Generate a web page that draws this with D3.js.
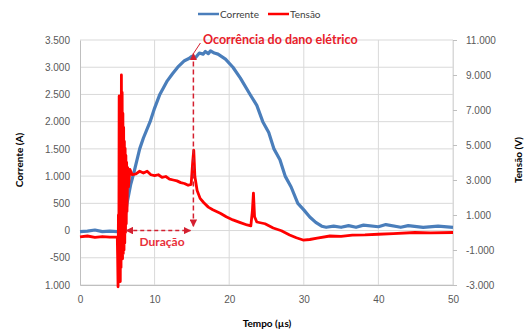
<!DOCTYPE html>
<html>
<head>
<meta charset="utf-8">
<style>
  body { margin: 0; background: #fff; }
  svg { font-family: Lato, "Open Sans", sans-serif; }
  .tick text { fill: #595959; font-size: 10px; }
</style>
</head>
<body>
<svg id="chart" width="530" height="335"></svg>
<script src="https://d3js.org/d3.v7.min.js"></script>
<script>
  // current (A)
  const timeI = [0, 1, 2, 3, 4, 5, 5.5, 5.8, 6.3, 6.8, 7.2, 8.0, 8.5, 9.4, 10, 10.7, 11.7, 12.4, 13.1, 14, 14.6, 15, 15.5, 16, 16.5, 16.8, 17.2, 17.5, 18, 18.5, 19.5, 20.5, 21.5, 22.8, 23.7, 24.5, 25.3, 26, 26.8, 27.5, 28.3, 29.2, 30, 30.8, 31.6, 32.4, 33, 34, 35, 36, 37, 38, 40, 41, 43, 44, 46, 48, 50]
  const current = [-20, -10, 10, -20, -10, -20, -20, 0, 500, 850, 1050, 1500, 1700, 2000, 2250, 2500, 2750, 2880, 3000, 3120, 3160, 3200, 3180, 3260, 3240, 3290, 3250, 3300, 3260, 3240, 3150, 3000, 2800, 2500, 2300, 2000, 1800, 1500, 1300, 1000, 800, 500, 380, 250, 150, 80, 60, 80, 60, 90, 60, 100, 70, 110, 60, 90, 60, 80, 60]

  // voltage (V)
  const timeV = [0, 1, 2, 3, 4, 5, 5.05, 5.1, 5.15, 5.2, 5.25, 5.3, 5.35, 5.4, 5.45, 5.5, 5.55, 5.6, 5.65, 5.7, 5.75, 5.8, 5.85, 5.9, 5.95, 6.0, 6.05, 6.1, 6.15, 6.2, 6.25, 6.3, 6.4, 6.5, 6.7, 7.0, 7.5, 8.0, 8.5, 9.0, 9.5, 10, 10.5, 11, 11.5, 12, 12.5, 13, 13.5, 14, 14.5, 14.9, 15.1, 15.25, 15.4, 15.7, 16.1, 16.6, 17.2, 17.8, 18.8, 19.6, 20.5, 21.4, 22.4, 22.9, 23.1, 23.25, 23.4, 23.7, 24.8, 25.9, 27, 28.1, 29, 29.9, 30.8, 31.8, 33.5, 35, 36.5, 38.2, 40, 42, 44.9, 47, 50]
  const voltage = [-250, -200, -280, -230, -270, -250, -1500, -3100, 1000, -2500, 7800, -1500, 6500, -2800, 5000, -2000, 9000, -800, 8000, -1500, 6800, -1200, 6000, -1000, 5200, -600, 4800, 0, 4400, 500, 4000, 1200, 3700, 2600, 3600, 3300, 3350, 3500, 3400, 3500, 3300, 3250, 3300, 3150, 3200, 3050, 3000, 2950, 2850, 2800, 2700, 2750, 4000, 4700, 3200, 2400, 1950, 1700, 1450, 1300, 1100, 900, 720, 580, 430, 380, 1200, 2250, 900, 600, 500, 260, 100, -140, -300, -430, -400, -320, -200, -220, -150, -140, -100, -60, 0, -20, 0]

  const xTicks = [0, 10, 20, 30, 40, 50]
  const leftTicks = [3500, 3000, 2500, 2000, 1500, 1000, 500, 0, -500, -1000]
  const leftLabels = ['3.500', '3.000', '2.500', '2.000', '1.500', '1.000', '500', '0', '-500', '1.000']
  const rightTicks = [11000, 9000, 7000, 5000, 3000, 1000, -1000, -3000]
  const rightLabels = ['11.000', '9.000', '7.000', '5.000', '3.000', '1.000', '-1.000', '-3.000']

  const damageTime = 15.2
  const startTime = 6.2

  const svg = d3.select('#chart')

  const x = d3.scaleLinear().domain([0, 50]).range([80, 453])
  const yL = d3.scaleLinear().domain([-1000, 3500]).range([285, 40])
  const yR = d3.scaleLinear().domain([-3000, 11000]).range([285, 40])

  // grid
  svg.append('g')
    .selectAll('line.h')
    .data(leftTicks)
    .join('line')
    .attr('x1', x(0)).attr('x2', x(50))
    .attr('y1', d => yL(d)).attr('y2', d => yL(d))
    .attr('stroke', '#d9d9d9')
  svg.append('g')
    .selectAll('line.v')
    .data(xTicks.slice(1))
    .join('line')
    .attr('x1', d => x(d)).attr('x2', d => x(d))
    .attr('y1', yL(3500)).attr('y2', yL(-1000))
    .attr('stroke', '#d9d9d9')

  // axes
  const xAxis = svg.append('g')
    .attr('transform', `translate(0,${yL(-1000)})`)
    .call(d3.axisBottom(x).tickValues(xTicks).tickSize(0).tickPadding(11))
  xAxis.select('.domain').attr('stroke', '#bfbfbf')

  const leftAxis = svg.append('g')
    .attr('transform', `translate(${x(0)},0)`)
    .call(d3.axisLeft(yL).tickValues(leftTicks).tickSize(0).tickPadding(10)
      .tickFormat((d, i) => leftLabels[i]))
  leftAxis.select('.domain').attr('stroke', '#bfbfbf')

  const rightAxis = svg.append('g')
    .attr('transform', `translate(${x(50)},0)`)
    .call(d3.axisRight(yR).tickValues(rightTicks).tickSize(4).tickPadding(9)
      .tickFormat((d, i) => rightLabels[i]))
  rightAxis.select('.domain').attr('stroke', '#d9d9d9')
  rightAxis.selectAll('.tick line').attr('stroke', '#bfbfbf')

  // axis titles
  svg.append('text')
    .attr('x', 267).attr('y', 327)
    .attr('text-anchor', 'middle')
    .style('font-size', '10px').style('font-weight', 'bold')
    .text('Tempo (µs)')
  svg.append('text')
    .attr('transform', 'translate(23,160) rotate(-90)')
    .attr('text-anchor', 'middle')
    .style('font-size', '10px').style('font-weight', 'bold')
    .text('Corrente (A)')
  svg.append('text')
    .attr('transform', 'translate(522,160) rotate(-90)')
    .attr('text-anchor', 'middle')
    .style('font-size', '10px').style('font-weight', 'bold')
    .text('Tensão (V)')

  // series
  const lineI = d3.line().x((d, i) => x(timeI[i])).y(d => yL(d))
  const lineV = d3.line().x((d, i) => x(timeV[i])).y(d => yR(d))

  svg.append('path')
    .datum(current)
    .attr('d', lineI)
    .attr('fill', 'none')
    .attr('stroke', '#4a7ebb')
    .attr('stroke-width', 3.2)
    .attr('stroke-linejoin', 'round')

  svg.append('path')
    .datum(voltage)
    .attr('d', lineV)
    .attr('fill', 'none')
    .attr('stroke', '#ff0000')
    .attr('stroke-width', 2.8)
    .attr('stroke-linejoin', 'round')

  // annotations
  const defs = svg.append('defs')
  defs.append('marker')
    .attr('id', 'arr')
    .attr('viewBox', '0 0 10 10')
    .attr('refX', 9).attr('refY', 5)
    .attr('markerWidth', 5).attr('markerHeight', 5)
    .attr('orient', 'auto-start-reverse')
    .append('path')
    .attr('d', 'M0,0L10,5L0,10z')
    .attr('fill', '#d42030')

  svg.append('line')
    .attr('x1', x(damageTime)).attr('x2', x(damageTime))
    .attr('y1', yL(3250)).attr('y2', yL(80))
    .attr('stroke', '#d42030')
    .attr('stroke-width', 1.5)
    .attr('stroke-dasharray', '5,3')
    .attr('marker-start', 'url(#arr)')
    .attr('marker-end', 'url(#arr)')

  svg.append('line')
    .attr('x1', x(damageTime) + 7).attr('x2', x(damageTime))
    .attr('y1', 43).attr('y2', yL(3250))
    .attr('stroke', '#d42030')
    .attr('stroke-width', 1)

  svg.append('line')
    .attr('x1', x(startTime)).attr('x2', x(damageTime) - 3)
    .attr('y1', yL(0)).attr('y2', yL(0))
    .attr('stroke', '#d42030')
    .attr('stroke-width', 1.5)
    .attr('stroke-dasharray', '4,3')
    .attr('marker-start', 'url(#arr)')
    .attr('marker-end', 'url(#arr)')

  svg.append('text')
    .attr('x', 203).attr('y', 44)
    .attr('fill', '#e8202a')
    .style('font-size', '12.5px').style('font-weight', 'bold')
    .text('Ocorrência do dano elétrico')

  svg.append('text')
    .attr('x', 162).attr('y', 246)
    .attr('text-anchor', 'middle')
    .attr('fill', '#e8303a')
    .style('font-size', '12px').style('font-weight', 'bold')
    .text('Duração')

  // legend
  const legend = svg.append('g').attr('transform', 'translate(198,14)')
  const items = [['Corrente', '#4a7ebb'], ['Tensão', '#ff0000']]
  items.forEach((it, i) => {
    const g = legend.append('g').attr('transform', `translate(${i * 70},0)`)
    g.append('line').attr('x1', 0).attr('x2', 21).attr('stroke', it[1]).attr('stroke-width', 2.5)
    g.append('text').attr('x', 22).attr('y', 3.5)
      .style('font-size', '10px').attr('fill', '#404040').text(it[0])
  })
</script>
</body>
</html>
